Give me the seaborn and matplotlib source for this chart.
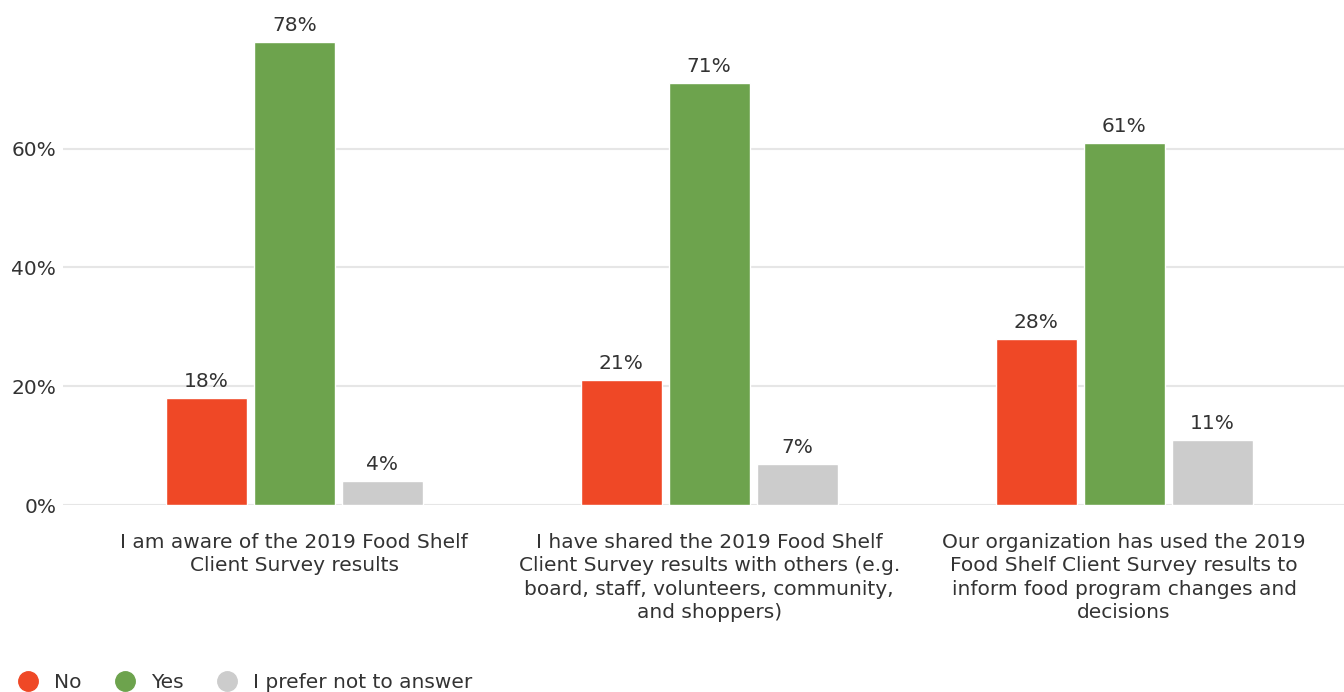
import matplotlib
matplotlib.use("Agg")
import matplotlib.pyplot as plt
from matplotlib.lines import Line2D
import seaborn as sns
import pandas as pd

# Survey statements (wrapped for the x axis)
categories = [
    "I am aware of the 2019 Food Shelf\nClient Survey results",
    "I have shared the 2019 Food Shelf\nClient Survey results with others (e.g.\nboard, staff, volunteers, community,\nand shoppers)",
    "Our organization has used the 2019\nFood Shelf Client Survey results to\ninform food program changes and\ndecisions",
]
responses = ["No", "Yes", "I prefer not to answer"]
no_pct = [18, 21, 28]
yes_pct = [78, 71, 61]
no_answer_pct = [4, 7, 11]
y_ticks = [0, 20, 40, 60]
y_tick_labels = ["0%", "20%", "40%", "60%"]

colors = {"No": "#EF4826", "Yes": "#6DA34D", "I prefer not to answer": "#CCCCCC"}
text_color = "#333333"
font_size = 14.5

df = pd.DataFrame({
    "statement": categories * 3,
    "response": [r for r in responses for _ in categories],
    "pct": no_pct + yes_pct + no_answer_pct,
})

sns.set_theme(style="white")
plt.rcParams["font.family"] = ["DejaVu Sans"]

fig = plt.figure(figsize=(13.44, 6.92), dpi=100)
ax = fig.add_axes([0.047, 0.270, 0.953, 0.730])

sns.barplot(
    data=df, x="statement", y="pct", hue="response",
    order=categories, hue_order=responses, palette=colors,
    width=0.636, gap=0.08, ax=ax, legend=False, saturation=1,
)

for container in ax.containers:
    ax.bar_label(container, labels=[f"{v:.0f}%" for v in container.datavalues],
                 padding=5, fontsize=font_size, color=text_color)

ax.set_ylim(0, 85)
ax.set_xlim(-0.557, 2.530)
ax.set_yticks(y_ticks)
ax.set_yticklabels(y_tick_labels)
ax.yaxis.grid(True, color="#E6E6E6", linewidth=1.5)
ax.set_axisbelow(True)
for s in ax.spines.values():
    s.set_visible(False)
ax.set_xlabel("")
ax.set_ylabel("")
ax.tick_params(axis="y", length=0, pad=5, labelsize=font_size, labelcolor=text_color)
ax.tick_params(axis="x", length=0, pad=20, labelsize=font_size, labelcolor=text_color)
for lbl in ax.get_xticklabels():
    lbl.set_linespacing(1.29)

handles = [Line2D([0], [0], marker="o", linestyle="", markersize=14,
                  markerfacecolor=colors[r], markeredgecolor=colors[r]) for r in responses]
fig.legend(handles, responses, loc="lower left", bbox_to_anchor=(0.0, -0.026),
           ncol=3, frameon=False, fontsize=font_size, labelcolor=text_color,
           handletextpad=0.8, columnspacing=1.65, handlelength=1.0)

fig.savefig("out.png", dpi=100)
